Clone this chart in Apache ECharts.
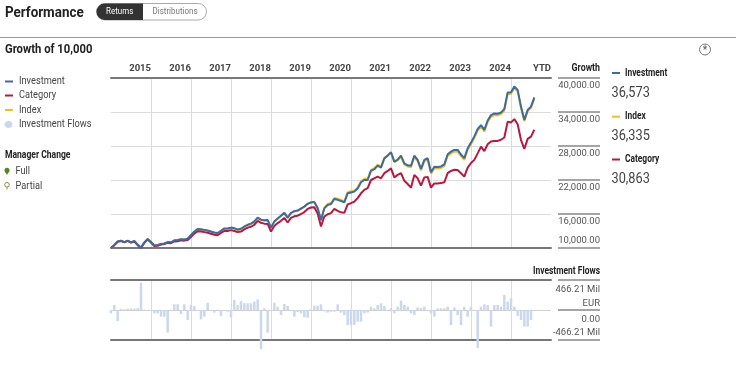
<!DOCTYPE html>
<html><head><meta charset="utf-8">
<script src="https://cdn.jsdelivr.net/npm/echarts@6/dist/echarts.min.js"></script>
<style>html,body{margin:0;padding:0;background:#fff}#c{width:736px;height:368px}</style>
</head><body><div id="c"></div>
<script>
// ---- data (monthly, index 0 = Dec 2014 start, 127 = Jul 2025) ----
const yearLabels = ['2015','2016','2017','2018','2019','2020','2021','2022','2023','2024','YTD'];
const growthTickLabels = ['10,000.00','16,000.00','22,000.00','28,000.00','34,000.00','40,000.00'];
const flowTickLabels = ['-466.21 Mil','0.00','466.21 Mil\nEUR'];
const investment = [10000,10550,11150,11300,11050,11300,11000,11250,10600,10050,11000,11600,11050,10450,10550,10700,10800,11050,11000,11350,11400,11550,11500,11650,
12300,12900,13350,13300,13200,13100,12900,12750,12650,13050,13450,13450,13600,13500,13250,13400,13800,14100,14300,14700,15350,15000,14900,14950,
13600,14700,15200,15700,16200,15350,16200,16500,16600,16950,17300,17800,18050,18100,17000,14900,17000,17600,17750,18650,18500,18300,18050,19650,
19800,19950,20500,21600,22000,22000,23600,23900,24550,24200,25800,26300,26900,25250,25600,26300,24950,24600,24500,26300,25550,23950,25550,25850,
23350,24350,24300,24400,24750,26550,27000,27300,27300,26500,25850,27600,28600,29700,31000,31700,30850,32500,33450,33750,33700,33900,34550,37450,
37500,38500,37900,34950,32600,34350,34950,36573];
const category = [10000,10500,11100,11250,11000,11250,10950,11150,10500,10000,10900,11500,10950,10350,10400,10600,10700,10900,10850,11150,11200,11350,11300,11400,
11950,12550,12950,12900,12800,12700,12500,12350,12250,12650,13000,13000,13150,13000,12800,12900,13300,13600,13750,14100,14800,14450,14300,14250,
12900,13900,14400,14800,15300,14500,15300,15600,15700,16000,16350,16900,17150,17200,16100,13800,15550,15950,16150,16900,16550,16300,16200,17700,
17900,18200,18800,19650,20250,20550,22000,22300,22600,22300,23200,23600,24050,22450,22900,23200,21850,21300,20650,22900,22300,21000,22450,22550,
20650,21400,21400,21450,21600,23200,23600,23800,23750,23200,22600,24200,25000,25550,26700,27900,27100,28300,28800,28900,28900,29100,29500,32300,
32150,32750,31850,29050,27500,29250,29650,30863];
const indexSeries = [10000,10540,11130,11280,11030,11270,10980,11220,10580,10040,10980,11570,11020,10420,10520,10670,10770,11010,10960,11310,11360,11500,11450,11600,
12240,12830,13280,13230,13130,13030,12830,12680,12580,12980,13370,13380,13520,13420,13180,13330,13720,14020,14220,14620,15260,14920,14830,14880,
13550,14650,15150,15650,16150,15320,16170,16480,16580,16950,17300,17820,18080,18150,17080,15000,17150,17780,17930,18830,18690,18480,18230,19850,
20000,20150,20700,21800,22200,22200,23780,24080,24700,24350,25900,26350,26900,25150,25450,26100,24750,24380,24250,26050,25300,23700,25300,25600,
23100,24080,24030,24130,24480,26250,26700,27000,27000,26200,25550,27300,28300,29400,30700,31400,30550,32200,33150,33450,33400,33620,34250,37150,
37200,38200,37620,34700,32380,34120,34720,36335];
const flows = [-52,78,-171,15,10,20,25,20,30,425,5,0,-10,-52,-52,-104,-104,-352,0,88,88,-62,88,-155,
78,60,-10,-145,-104,114,0,-41,5,-93,0,-26,-114,155,78,140,104,104,104,130,166,-610,26,-352,
0,114,52,-78,93,62,0,-104,-30,-52,-114,-120,10,67,67,88,-20,-41,-26,-26,88,-41,-80,-233,
-233,-233,-181,-181,-52,-40,52,26,78,104,62,0,26,-52,52,145,78,52,-52,-78,41,30,52,0,
-52,-104,26,26,26,52,-233,41,-78,-233,52,-104,52,0,-590,52,88,78,-259,78,78,52,233,130,
181,52,-93,-155,-259,-259,-155,0];

const FONT = 'Roboto,"Noto Sans",sans-serif';
const C_INV = '#3b6ba5', C_CAT = '#b8183f', C_IDX = '#f0bf1a', C_FLOW = '#c9d8ec';
const pts = a => a.map((v,i)=>[i,v]);
const fmt = v => Math.round(v).toLocaleString('en-US');

function T(x,y,text,size,weight,fill,align,sx){
  return {type:'text', x:x, y:y, scaleX:(sx||0.85), silent:true, z:20,
    style:{text:text, font:(weight||'normal')+' '+size+'px '+FONT, fill:fill||'#333',
      align:align||'left', textAlign:align||'left', verticalAlign:'middle', textVerticalAlign:'middle'}};
}
function L(x1,y1,x2,y2,stroke,w){
  return {type:'line', silent:true, z:10, shape:{x1,y1,x2,y2}, style:{stroke, lineWidth:w||1}};
}

const graphics = [
  T(5,13.5,'Performance',15.5,'bold','#222','left',0.865),
  {type:'rect', z:10, shape:{x:96.5,y:3.5,width:110,height:16.5,r:8.25}, style:{fill:'#fff',stroke:'#aaa',lineWidth:1}},
  {type:'rect', z:11, shape:{x:96.5,y:3.5,width:46.5,height:16.5,r:[8.25,0,0,8.25]}, style:{fill:'#333'}},
  T(119.7,12,'Returns',9.5,'normal','#fff','center',0.84),
  T(175,12,'Distributions',9.5,'normal','#777','center',0.84),
  L(0,37.5,736,37.5,'#999',1),
  T(5,49.5,'Growth of 10,000',12.5,'bold','#222','left',0.9),
  {type:'circle', z:10, shape:{cx:705,cy:49.5,r:5.5}, style:{fill:'#fff',stroke:'#777',lineWidth:1}},
  T(705,50.5,'*',10,'bold','#666','center',1),
  // left legend
  L(5,81.5,13,81.5,C_INV,2), T(19,81.5,'Investment',11,'normal','#444','left',0.84),
  L(5,95.5,13,95.5,C_CAT,2), T(19,95.5,'Category',11,'normal','#444','left',0.84),
  L(5,110,13,110,C_IDX,2), T(19,110,'Index',11,'normal','#444','left',0.84),
  {type:'ellipse', z:10, shape:{cx:8.5,cy:124.5,rx:4,ry:3.5}, style:{fill:C_FLOW}},
  T(19,124.5,'Investment Flows',11,'normal','#444','left',0.84),
  T(5,155,'Manager Change',10,'bold','#222','left',0.855),
  {type:'circle', z:10, shape:{cx:7,cy:170.3,r:2.5}, style:{fill:'#4f8a1e'}},
  {type:'polygon', z:10, shape:{points:[[4.8,171.3],[9.2,171.3],[7,175]]}, style:{fill:'#4f8a1e'}},
  T(15.5,171.5,'Full',11,'normal','#444','left',0.84),
  {type:'circle', z:10, shape:{cx:7,cy:184.8,r:2.3}, style:{fill:'#fff',stroke:'#8a8a45',lineWidth:1}},
  L(7,187.2,7,189.5,'#8a8a45',1),
  T(15.5,186,'Partial',11,'normal','#444','left',0.84),
  // axis headers
  T(600,68,'Growth',10,'bold','#222','right',0.88),
  T(600,271,'Investment Flows',10,'bold','#222','right',0.845),
  // right panel
  L(612,73,620,73,C_INV,2), T(625,73,'Investment',10,'bold','#222','left',0.84),
  T(611.5,93.5,fmt(investment[investment.length-1]),15,'normal','#444','left',0.85),
  L(612,116.7,620,116.7,C_IDX,2), T(625,116.7,'Index',10,'bold','#222','left',0.84),
  T(611.5,136.5,fmt(indexSeries[indexSeries.length-1]),15,'normal','#444','left',0.85),
  L(612,159.5,620,159.5,C_CAT,2), T(625,159.5,'Category',10,'bold','#222','left',0.84),
  T(611.5,179.5,fmt(category[category.length-1]),15,'normal','#444','left',0.85)
];

const xBase = {type:'value', min:0, max:132, interval:12};
const hidden = {show:false};
const noLine = {show:false, onZero:false};
const darkLine = {show:true, onZero:false, lineStyle:{color:'#777', width:2}};
const chart = echarts.init(document.getElementById('c'), null, {renderer:'canvas'});
chart.setOption({
  animation:false,
  grid:[{left:111, top:78, width:440, height:170},{left:111, top:280, width:440, height:60}],
  xAxis:[
    Object.assign({}, xBase, {gridIndex:0, position:'top', axisLine:darkLine, axisTick:hidden,
      axisLabel:{show:true, margin:4, align:'right', fontFamily:FONT, fontSize:9.5, fontWeight:'bold', color:'#444',
        formatter:v => (v>0 ? (yearLabels[Math.round(v/12)-1]||'') : '')},
      splitLine:{show:true, showMinLine:false, showMaxLine:false, lineStyle:{color:'#dcdcdc', width:1}}}),
    Object.assign({}, xBase, {gridIndex:0, position:'bottom', axisLine:darkLine, axisTick:hidden, axisLabel:hidden, splitLine:hidden}),
    Object.assign({}, xBase, {gridIndex:1, position:'top', axisLine:darkLine, axisTick:hidden, axisLabel:hidden,
      splitLine:{show:true, showMinLine:false, showMaxLine:false, lineStyle:{color:'#dcdcdc', width:1}}}),
    Object.assign({}, xBase, {gridIndex:1, position:'bottom', axisLine:darkLine, axisTick:hidden, axisLabel:hidden, splitLine:hidden})
  ],
  yAxis:[
    {gridIndex:0, type:'value', position:'right', offset:7, min:10000, max:40000, interval:6000,
      axisLine:noLine, axisTick:{show:true, inside:false, length:42, lineStyle:{color:'#888', width:1.5}},
      axisLabel:{show:true, margin:42, align:'right', verticalAlign:'top', padding:[3,0,0,0], fontFamily:FONT, fontSize:9.5, color:'#555',
        formatter:v => { const k = Math.round((v-10000)/6000); return k===0 ? '' : growthTickLabels[k]; }},
      splitLine:{show:true, lineStyle:{color:'#dcdcdc', width:1}}},
    {gridIndex:0, type:'value', position:'right', offset:7, min:10000, max:40000, interval:6000,
      axisLine:noLine, axisTick:hidden, splitLine:hidden,
      axisLabel:{show:true, margin:42, align:'right', verticalAlign:'bottom', padding:[0,0,2,0], fontFamily:FONT, fontSize:9.5, color:'#555',
        formatter:v => { const k = Math.round((v-10000)/6000); return k===0 ? growthTickLabels[0] : ''; }}},
    {gridIndex:1, type:'value', position:'right', offset:7, min:-466.21, max:466.21, interval:466.21,
      axisLine:noLine, axisTick:{show:true, inside:false, length:42, lineStyle:{color:'#888', width:1.5}},
      axisLabel:{show:true, margin:42, align:'right', verticalAlign:'top', padding:[3,0,0,0], lineHeight:13.5, fontFamily:FONT, fontSize:9.5, color:'#555',
        formatter:v => { const k = Math.round((v+466.21)/466.21); return k===0 ? '' : flowTickLabels[k]; }},
      splitLine:{show:true, lineStyle:{color:'#d0d0d0', width:1}}},
    {gridIndex:1, type:'value', position:'right', offset:7, min:-466.21, max:466.21, interval:466.21,
      axisLine:noLine, axisTick:hidden, splitLine:hidden,
      axisLabel:{show:true, margin:42, align:'right', verticalAlign:'bottom', padding:[0,0,2,0], fontFamily:FONT, fontSize:9.5, color:'#555',
        formatter:v => { const k = Math.round((v+466.21)/466.21); return k===0 ? flowTickLabels[0] : ''; }}}
  ],
  series:[
    {type:'bar', xAxisIndex:2, yAxisIndex:2, data:pts(flows), barWidth:2.5, clip:false, itemStyle:{color:C_FLOW}, silent:true, z:2},
    {type:'line', name:'Index', xAxisIndex:0, yAxisIndex:0, data:pts(indexSeries), showSymbol:false, lineStyle:{color:C_IDX, width:2}, z:3},
    {type:'line', name:'Category', xAxisIndex:0, yAxisIndex:0, data:pts(category), showSymbol:false, lineStyle:{color:C_CAT, width:2}, z:4},
    {type:'line', name:'Investment', xAxisIndex:0, yAxisIndex:0, data:pts(investment), showSymbol:false, lineStyle:{color:C_INV, width:2}, z:5}
  ],
  graphic:graphics
});
</script></body></html>
